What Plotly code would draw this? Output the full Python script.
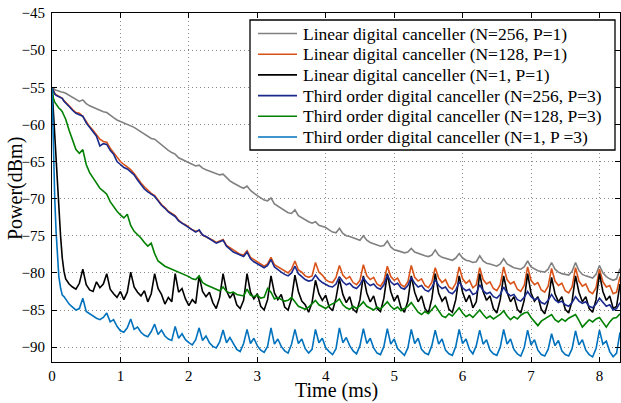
import plotly.graph_objects as go

# ---- time axis (ms) ----
EARLY_T = [0, 0.02, 0.04, 0.06, 0.08, 0.1, 0.125, 0.15, 0.175, 0.2, 0.25]
TIME_MS = EARLY_T + [round(0.3 + 0.05 * i, 2) for i in range(161)]

# ---- series values (dBm) ----
lin_256 = [
    -55.0, -55.2, -55.3, -55.4, -55.5, -55.5, -55.6, -55.6, -55.7, -55.8, -56.1,
    -56.3, -56.6, -56.9, -56.7, -57.2, -57.5, -57.7, -58.0, -58.2, -58.3,
    -58.4, -58.8, -59.1, -59.4, -59.6, -59.8, -60.0, -60.1, -60.4, -60.7,
    -61.0, -61.4, -61.6, -61.9, -62.0, -62.4, -62.7, -63.1, -63.5, -63.8,
    -64.0, -64.5, -64.7, -64.9, -65.1, -65.4, -65.6, -65.5, -65.9, -66.1,
    -66.3, -66.5, -66.7, -66.8, -66.7, -67.2, -67.6, -67.9, -68.2, -68.4,
    -68.6, -68.3, -68.9, -69.3, -69.6, -69.9, -70.2, -70.3, -69.9, -70.7,
    -71.0, -71.3, -71.6, -71.9, -72.0, -71.5, -72.3, -72.6, -72.9, -73.1,
    -73.3, -73.1, -73.6, -73.7, -73.9, -74.2, -74.5, -74.6, -74.0, -74.7,
    -75.0, -75.1, -75.3, -75.5, -75.6, -75.0, -75.6, -75.9, -76.1, -76.2,
    -76.4, -76.3, -75.7, -76.5, -76.9, -77.0, -77.2, -77.3, -77.2, -76.7,
    -77.2, -77.4, -77.5, -77.7, -77.8, -77.6, -76.9, -77.6, -77.9, -78.0,
    -78.1, -78.3, -78.0, -77.4, -78.0, -78.3, -78.4, -78.6, -78.5, -77.7,
    -78.4, -78.7, -78.8, -79.0, -79.1, -78.8, -78.1, -78.8, -79.1, -79.3,
    -79.4, -79.5, -79.2, -78.4, -79.2, -79.5, -79.7, -79.8, -79.9, -79.5,
    -78.6, -79.5, -79.9, -80.1, -80.2, -80.3, -79.8, -78.6, -79.7, -80.2,
    -80.4, -80.6, -80.7, -80.2, -79.0, -80.0, -80.5, -80.8, -81.0, -80.8,
    -79.4,
]

lin_128 = [
    -55.0, -55.5, -55.8, -56.0, -56.1, -56.2, -56.3, -56.5, -56.8, -57.0, -57.5,
    -58.0, -58.4, -58.5, -58.9, -59.6, -60.3, -60.8, -61.4, -62.0, -62.3,
    -62.4, -63.2, -63.8, -64.5, -65.0, -65.4, -65.7, -66.1, -66.6, -67.3,
    -67.9, -68.4, -68.9, -69.3, -69.6, -70.2, -70.8, -71.2, -71.7, -72.0,
    -72.3, -72.9, -73.3, -73.5, -73.9, -74.2, -74.4, -74.3, -74.9, -75.1,
    -75.3, -75.6, -75.9, -75.7, -75.5, -76.3, -76.6, -77.0, -77.2, -77.5,
    -77.6, -77.0, -77.9, -78.2, -78.5, -78.9, -79.1, -78.8, -77.9, -78.9,
    -79.2, -79.5, -79.8, -80.0, -79.5, -78.4, -79.6, -79.9, -80.4, -80.6,
    -80.4, -78.6, -79.9, -80.3, -80.9, -81.2, -81.3, -80.6, -79.0, -80.3,
    -80.8, -80.5, -81.3, -81.6, -81.0, -78.9, -80.4, -80.9, -80.6, -81.5,
    -81.8, -81.1, -79.1, -80.5, -81.0, -80.7, -81.6, -81.9, -81.2, -79.0,
    -80.6, -81.1, -80.8, -81.7, -82.0, -81.3, -79.3, -80.7, -81.3, -80.9,
    -81.9, -82.2, -81.4, -79.2, -80.8, -81.4, -81.0, -82.0, -81.6, -79.3,
    -80.9, -81.5, -81.2, -82.1, -82.4, -81.6, -79.2, -80.9, -81.5, -81.2,
    -82.2, -82.5, -81.7, -79.2, -81.0, -81.6, -81.3, -82.3, -82.6, -81.8,
    -79.4, -81.1, -81.7, -81.4, -82.4, -82.7, -81.9, -79.3, -81.1, -81.8,
    -81.5, -82.5, -82.8, -82.0, -79.5, -81.2, -81.9, -81.7, -82.8, -82.6,
    -80.5,
]

lin_1 = [
    -55.0, -58.5, -62.0, -65.5, -68.5, -71.5, -75.0, -78.0, -79.8, -80.8, -81.5,
    -81.9, -82.2, -81.4, -79.5, -81.6, -82.3, -82.5, -81.2, -82.0, -81.5,
    -80.1, -82.2, -82.8, -83.3, -82.5, -83.6, -82.6, -79.9, -81.9, -82.6,
    -83.1, -82.4, -83.9, -82.8, -80.1, -82.1, -82.9, -84.2, -83.3, -83.9,
    -80.1, -82.6, -82.1, -83.5, -84.4, -83.6, -84.1, -80.4, -82.5, -83.2,
    -82.6, -84.0, -84.8, -83.3, -80.1, -82.4, -83.4, -82.7, -84.3, -84.8,
    -83.7, -80.1, -82.6, -83.5, -82.8, -84.5, -85.0, -83.6, -80.4, -82.7,
    -83.6, -82.9, -84.6, -85.0, -83.5, -80.3, -82.5, -83.8, -84.3, -85.3,
    -84.0, -81.0, -82.8, -83.7, -83.0, -84.6, -85.1, -83.4, -80.8, -82.9,
    -84.0, -83.2, -84.9, -85.3, -83.6, -80.4, -82.7, -83.9, -83.1, -84.8,
    -85.2, -83.4, -80.1, -82.5, -83.8, -83.0, -84.7, -85.3, -83.8, -80.4,
    -82.6, -83.9, -83.1, -84.8, -85.4, -83.5, -80.1, -82.7, -83.8, -83.2,
    -84.9, -85.3, -83.6, -80.4, -82.6, -83.9, -83.0, -84.7, -83.9, -80.1,
    -82.5, -83.7, -83.1, -84.8, -85.4, -83.6, -80.4, -82.6, -83.9, -83.2,
    -84.9, -85.4, -83.7, -80.1, -82.7, -83.8, -83.2, -84.9, -85.5, -83.9,
    -80.6, -82.8, -83.9, -83.2, -84.9, -85.4, -83.8, -80.4, -82.6, -83.9,
    -83.2, -84.8, -85.3, -83.6, -80.1, -82.5, -83.7, -83.1, -84.8, -84.5,
    -81.5,
]

third_256 = [
    -55.0, -55.6, -55.9, -56.1, -56.2, -56.3, -56.4, -56.5, -56.9, -57.1, -57.6,
    -58.1, -58.5, -58.7, -58.9, -59.8, -60.4, -60.9, -61.6, -62.9, -62.6,
    -62.7, -63.5, -64.0, -65.0, -65.4, -65.8, -66.0, -66.4, -66.8, -67.5,
    -68.1, -68.7, -69.1, -69.4, -69.7, -70.3, -70.9, -71.3, -71.8, -72.1,
    -72.4, -73.0, -73.3, -73.6, -74.0, -74.3, -74.5, -74.2, -74.9, -75.1,
    -75.4, -75.7, -76.0, -75.8, -75.6, -76.4, -76.8, -77.2, -77.4, -77.6,
    -77.8, -77.2, -78.1, -78.5, -78.8, -79.1, -79.3, -79.0, -78.2, -79.2,
    -79.6, -79.9, -80.2, -80.4, -80.0, -79.1, -80.1, -80.5, -80.9, -81.1,
    -81.0, -80.3, -80.9, -81.3, -81.6, -81.8, -81.9, -81.5, -80.5, -81.2,
    -81.6, -81.4, -81.9, -82.1, -81.6, -80.7, -81.3, -81.7, -81.5, -82.0,
    -82.2, -81.6, -80.3, -81.2, -81.6, -81.4, -82.0, -82.2, -81.7, -80.6,
    -81.4, -81.9, -81.7, -82.3, -82.5, -82.0, -80.9, -81.7, -82.1, -81.9,
    -82.6, -82.8, -82.3, -81.2, -82.0, -82.4, -82.2, -82.9, -82.7, -81.6,
    -82.4, -82.8, -82.6, -83.2, -83.4, -82.9, -81.9, -82.7, -83.1, -82.9,
    -83.6, -83.8, -83.3, -82.5, -83.2, -83.6, -83.4, -84.0, -84.2, -83.7,
    -82.9, -83.6, -84.0, -83.8, -84.3, -84.5, -84.0, -83.2, -83.8, -84.1,
    -83.9, -84.5, -84.7, -84.2, -83.4, -84.0, -84.5, -84.3, -85.0, -84.8,
    -84.0,
]

third_128 = [
    -55.0, -56.5, -57.0, -57.3, -57.5, -57.8, -58.0, -58.3, -58.8, -59.3, -60.8,
    -62.2, -63.4, -63.9, -63.4, -65.4, -66.5, -67.2, -67.9, -68.6, -69.0,
    -69.4, -70.4, -71.1, -71.7, -72.2, -72.6, -72.1, -73.6, -74.4, -74.8,
    -75.3, -75.9, -76.4, -76.0, -77.4, -78.4, -78.8, -79.1, -79.3, -79.5,
    -79.6, -79.8, -80.1, -80.2, -80.5, -80.8, -80.9, -80.4, -81.3, -81.6,
    -81.8, -82.0, -82.2, -82.4, -81.9, -82.5, -82.7, -82.6, -82.9, -83.0,
    -83.1, -82.2, -83.0, -83.2, -83.0, -83.4, -83.3, -82.1, -82.6, -83.5,
    -83.3, -83.6, -83.8, -83.7, -83.3, -83.9, -84.5, -84.7, -84.9, -84.6,
    -84.1, -83.7, -84.3, -84.6, -84.8, -84.4, -84.2, -83.9, -83.5, -84.3,
    -84.7, -84.9, -84.5, -84.8, -84.4, -83.9, -84.5, -84.8, -85.0, -84.6,
    -84.9, -84.4, -83.9, -84.5, -84.9, -84.6, -85.1, -84.8, -84.5, -84.0,
    -84.7, -85.3, -85.6, -85.2, -85.5, -85.0, -84.4, -85.1, -85.8, -86.0,
    -85.5, -85.8, -85.2, -84.7, -85.4, -85.9, -85.6, -86.0, -85.5, -85.0,
    -85.6, -86.1, -85.8, -86.2, -85.9, -85.6, -85.1, -85.8, -86.3, -85.9,
    -86.2, -85.7, -85.4, -85.3, -86.0, -86.6, -87.1, -86.5, -86.2, -85.9,
    -85.6, -86.3, -86.6, -86.2, -86.5, -86.1, -85.9, -85.6, -86.4, -87.3,
    -86.8, -86.3, -86.6, -86.2, -86.0, -86.7, -87.3, -86.6, -86.1, -86.0,
    -85.5,
]

third_1 = [
    -55.0, -64.0, -70.0, -74.5, -78.0, -80.5, -82.0, -83.0, -83.2, -83.5, -84.2,
    -84.6, -85.0, -84.8, -83.4, -85.2, -85.5, -85.9, -86.1, -86.3, -86.0,
    -85.4, -86.6, -86.3, -87.2, -87.8, -88.0, -87.4, -86.2, -87.6, -87.3,
    -88.0, -88.4, -88.6, -87.9, -86.9, -88.3, -87.7, -88.5, -88.9, -89.1,
    -87.2, -88.8, -88.2, -89.0, -89.4, -89.7, -89.0, -87.4, -89.1, -88.5,
    -89.4, -89.9, -90.1, -89.3, -87.7, -89.4, -88.7, -89.6, -90.3, -90.6,
    -89.5, -87.6, -89.5, -88.8, -89.8, -90.4, -90.7, -89.9, -87.4, -89.6,
    -88.9, -89.9, -90.5, -90.8, -89.6, -87.6, -89.5, -88.9, -90.2, -90.8,
    -90.3, -87.6, -89.4, -88.8, -90.1, -90.6, -91.0, -90.2, -87.4, -89.4,
    -88.7, -89.8, -90.5, -90.9, -89.8, -87.5, -89.5, -88.8, -90.1, -90.8,
    -91.0, -89.9, -87.5, -89.6, -88.9, -90.2, -90.7, -91.1, -90.1, -87.6,
    -89.5, -88.8, -90.3, -90.8, -91.0, -89.8, -87.7, -89.6, -88.9, -90.4,
    -90.9, -91.1, -89.9, -87.6, -89.5, -88.9, -90.3, -90.9, -89.8, -87.7,
    -89.6, -89.0, -90.4, -90.9, -91.1, -90.0, -87.6, -89.6, -88.9, -90.3,
    -90.9, -91.2, -90.1, -87.7, -89.7, -89.0, -90.4, -91.0, -91.2, -90.3,
    -88.2, -89.8, -89.1, -90.5, -91.0, -91.2, -90.2, -87.8, -89.7, -89.0,
    -90.4, -91.0, -91.3, -90.2, -87.7, -89.6, -89.2, -90.6, -91.3, -90.8,
    -88.0,
]

SERIES = [
    ("Linear digital canceller (N=256, P=1)", lin_256, "#808080"),
    ("Linear digital canceller (N=128, P=1)", lin_128, "#D95319"),
    ("Linear digital canceller (N=1, P=1)", lin_1, "#000000"),
    ("Third order digital canceller (N=256, P=3)", third_256, "#1A2A8C"),
    ("Third order digital canceller (N=128, P=3)", third_128, "#008000"),
    ("Third order digital canceller (N=1, P =3)", third_1, "#0072BD"),
]

X_TICKS = [0, 1, 2, 3, 4, 5, 6, 7, 8]
Y_TICKS = [-90, -85, -80, -75, -70, -65, -60, -55, -50, -45]

FONT = "Liberation Serif, Times New Roman, serif"

# plot-area geometry in pixels (for the hand-drawn legend & titles)
W, H = 621, 403
L, R, T, B = 52, 1, 13, 41
PW, PH = W - L - R, H - T - B


def px_x(p):
    return (p - L) / PW


def px_y(p):
    return (H - B - p) / PH


fig = go.Figure()
for name, vals, color in SERIES:
    fig.add_trace(go.Scatter(x=TIME_MS, y=vals, mode="lines", name=name,
                             showlegend=False,
                             line=dict(color=color, width=1.6)))

axis_common = dict(
    showline=True, linecolor="black", linewidth=1.2, mirror="allticks",
    ticks="inside", ticklen=5, tickcolor="black",
    showgrid=True, gridcolor="#8a8a8a", griddash="1px,3px", gridwidth=1,
    zeroline=False, automargin=False,
    tickfont=dict(family=FONT, size=15, color="black"),
)

shapes = []
annotations = []

# legend box
shapes.append(dict(type="rect", xref="paper", yref="paper",
                   x0=px_x(250), x1=px_x(615), y0=px_y(150), y1=px_y(20),
                   line=dict(color="black", width=1.3), fillcolor="white",
                   layer="above"))
for i, (name, vals, color) in enumerate(SERIES):
    cy = 33.5 + 20.7 * i
    shapes.append(dict(type="line", xref="paper", yref="paper",
                       x0=px_x(258), x1=px_x(297), y0=px_y(cy), y1=px_y(cy),
                       line=dict(color=color, width=1.6), layer="above"))
    annotations.append(dict(text=name, xref="paper", yref="paper",
                            x=px_x(301), y=px_y(cy), xanchor="left",
                            yanchor="middle", showarrow=False,
                            font=dict(family=FONT, size=17.5, color="black")))

# axis titles
annotations.append(dict(text="Time (ms)", xref="paper", yref="paper",
                        x=px_x(336), y=px_y(403), xanchor="center",
                        yanchor="bottom", showarrow=False, borderpad=0,
                        font=dict(family=FONT, size=20, color="black")))
annotations.append(dict(text="Power(dBm)", xref="paper", yref="paper",
                        x=px_x(15), y=px_y(189), xanchor="center",
                        yanchor="middle", showarrow=False, textangle=-90,
                        borderpad=0,
                        font=dict(family=FONT, size=20, color="black")))

fig.update_layout(
    width=W, height=H,
    margin=dict(l=L, r=R, t=T, b=B),
    paper_bgcolor="white", plot_bgcolor="white",
    font=dict(family=FONT, color="black"),
    showlegend=False,
    xaxis=dict(range=[0, 8.3], tickvals=X_TICKS, ticklabelstandoff=0,
               **axis_common),
    yaxis=dict(range=[-92, -45], tickvals=Y_TICKS, ticklabelstandoff=3,
               **axis_common),
    shapes=shapes,
    annotations=annotations,
)

fig.write_html(
    "out.html",
    config={"displayModeBar": False},
    post_script="document.body.style.margin='0';document.body.style.overflow='hidden';",
)
